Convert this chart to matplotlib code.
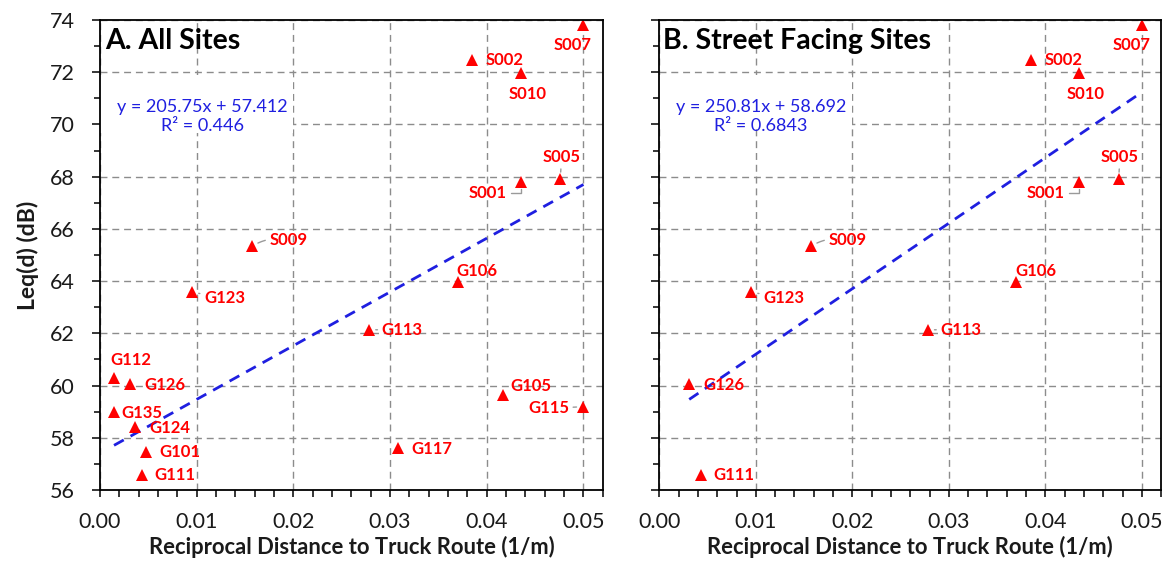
import matplotlib
matplotlib.use("Agg")
import matplotlib.pyplot as plt
from matplotlib.ticker import MultipleLocator, FormatStrFormatter

plt.rcParams['font.family'] = ['Lato', 'DejaVu Sans']

# ---------------- data ----------------
sites = ["S007", "S002", "S010", "S005", "S001", "S009", "G123", "G113", "G106",
         "G105", "G115", "G117", "G112", "G126", "G135", "G124", "G101", "G111"]
recip_dist = [0.0500, 0.0385, 0.0435, 0.0476, 0.0435, 0.0157, 0.0095, 0.0278, 0.0370,
              0.0417, 0.0500, 0.0308, 0.00145, 0.0031, 0.00145, 0.0036, 0.0048, 0.0043]
leq_d = [73.80, 72.47, 71.98, 67.91, 67.81, 65.33, 63.58, 62.14, 63.96,
         59.64, 59.19, 57.60, 60.28, 60.06, 59.00, 58.40, 57.47, 56.58]

street_facing = ["S007", "S002", "S010", "S005", "S001", "S009", "G123", "G113",
                 "G106", "G126", "G111"]

panel_titles = ["A. All Sites", "B. Street Facing Sites"]
slopes = [205.75, 250.81]
intercepts = [57.412, 58.692]
r_squared = ["0.446", "0.6843"]

x_label = "Reciprocal Distance to Truck Route (1/m)"
y_label = "Leq(d) (dB)"

# label offsets (points) and leader-line styles (layout only)
label_offsets = {
    "S007": (-7.6, -14.4), "S002": (23.5, 0.0), "S010": (4.8, -15.6),
    "S005": (1.0, 16.0), "S001": (-23.8, -7.9), "S009": (26.4, 4.8),
    "G123": (23.5, -4.3), "G113": (24.0, -0.3), "G106": (14.1, 7.9),
    "G105": (19.7, 6.5), "G115": (-25.2, -1.2), "G117": (24.8, -0.5),
    "G112": (12.0, 13.2), "G126": (25.2, -0.5), "G135": (20.0, -1.2),
    "G124": (25.2, -0.3), "G101": (24.0, 0.0), "G111": (24.0, 0.0),
}
leaders = {"S005": "arc3", "S001": "angle,angleA=0,angleB=90,rad=0",
           "S009": "arc3,rad=0.2", "G123": "arc3", "G113": "arc3", "G115": "arc3"}

RED = "#ff0000"
BLUE = "#1f1fe0"
GRID = "#8c8c8c"

fig = plt.figure(figsize=(11.65, 5.61), dpi=100)
W, H = 1165, 561
axes_px = [(100, 602.8), (659.3, 1161.1)]
top_px, bot_px = 20, 490
axs = []
for (l, r) in axes_px:
    ax = fig.add_axes([l / W, (H - bot_px) / H, (r - l) / W, (bot_px - top_px) / H])
    axs.append(ax)

subsets = [sites, street_facing]
eq_box_px = [(100, 75, 293, 133), (659.3, 75, 852, 128)]

for i, ax in enumerate(axs):
    names = subsets[i]
    xs = [recip_dist[sites.index(n)] for n in names]
    ys = [leq_d[sites.index(n)] for n in names]

    ax.set_xlim(0, 0.052)
    ax.set_ylim(56, 74)
    ax.xaxis.set_major_locator(MultipleLocator(0.01))
    ax.xaxis.set_minor_locator(MultipleLocator(0.002))
    ax.yaxis.set_major_locator(MultipleLocator(2))
    ax.yaxis.set_minor_locator(MultipleLocator(1))
    ax.xaxis.set_major_formatter(FormatStrFormatter("%.2f"))

    ax.grid(True, which="major", color=GRID, linestyle=(0, (5, 3.5)), linewidth=1.0, zorder=0)
    ax.set_axisbelow(True)
    for s in ax.spines.values():
        s.set_linewidth(1.3)
        s.set_color("black")
        s.set_zorder(5)

    ax.tick_params(axis="both", which="major", direction="out", length=6, width=1.1,
                   color="black", labelsize=15.5, labelcolor="#1a1a1a")
    ax.tick_params(axis="y", which="minor", direction="out", length=4, width=1.1)
    ax.tick_params(axis="x", which="minor", direction="out", length=5, width=1.1)
    ax.tick_params(axis="x", which="major", length=5, pad=11)
    ax.tick_params(axis="y", which="major", pad=12)
    if i == 1:
        ax.tick_params(axis="y", labelleft=False)

    ax.set_xlabel(x_label, fontsize=15.8, fontweight="bold", labelpad=3, color="#1a1a1a")
    if i == 0:
        ax.set_ylabel(y_label, fontsize=16.5, fontweight="bold", labelpad=8, color="#1a1a1a")

    # equation box background
    bx0, by0, bx1, by1 = eq_box_px[i]
    l, r = axes_px[i]
    rect = plt.Rectangle(((bx0 - l) / (r - l), (bot_px - by1) / (bot_px - top_px)),
                         (bx1 - bx0) / (r - l), (by1 - by0) / (bot_px - top_px),
                         transform=ax.transAxes, facecolor="white", edgecolor="none",
                         zorder=1)
    ax.add_patch(rect)

    # trend line
    xmin, xmax = min(xs), max(xs)
    ax.plot([xmin, xmax], [slopes[i] * xmin + intercepts[i], slopes[i] * xmax + intercepts[i]],
            color=BLUE, linestyle=(0, (4, 2.8)), linewidth=2.0, zorder=3)

    # points
    ax.plot(xs, ys, linestyle="none", marker="^", markersize=8, color=RED,
            markeredgewidth=0, zorder=4)

    # labels
    for n, x, y in zip(names, xs, ys):
        dx, dy = label_offsets[n]
        kw = {}
        if n in leaders:
            kw["arrowprops"] = dict(arrowstyle="-", color="#9a9a9a", lw=1.0,
                                    shrinkA=1, shrinkB=5,
                                    connectionstyle=leaders[n])
        ax.annotate(n, (x, y), xytext=(dx, dy), textcoords="offset points",
                    ha="center", va="center", fontsize=12, fontweight="bold",
                    color=RED, zorder=6, **kw)

    # title
    ax.text(0.011 if i == 0 else 0.007, 0.955, panel_titles[i], transform=ax.transAxes,
            fontsize=20.5, fontweight="bold", color="black", ha="left", va="center",
            zorder=6)

    # equation
    eq = f"y = {slopes[i]:.2f}x + {intercepts[i]:.3f}\nR\u00b2 = {r_squared[i]}"
    cx = 0.204 if i == 0 else 0.203
    ax.text(cx, 0.794, eq, transform=ax.transAxes, fontsize=13, color=BLUE,
            ha="center", va="center", linespacing=1.25, zorder=6)

fig.savefig("out.png", dpi=100)
